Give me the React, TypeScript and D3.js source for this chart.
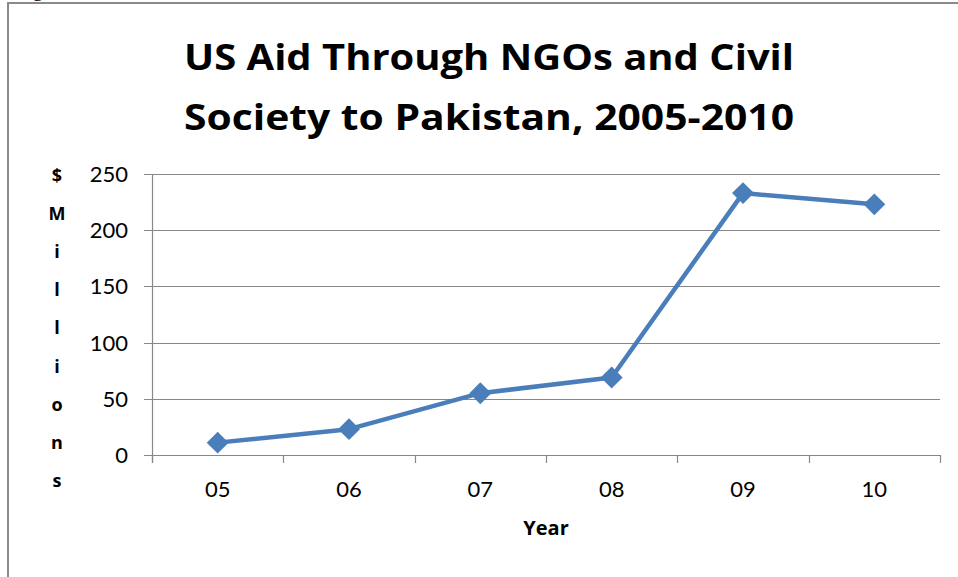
import React from "react";
import * as d3 from "d3";

const categories = ["05", "06", "07", "08", "09", "10"];
const aidValues = [11, 23, 55, 69, 233, 223];
const yTicks = [0, 50, 100, 150, 200, 250];
const titleLines = ["US Aid Through NGOs and Civil", "Society to Pakistan, 2005-2010"];
const yAxisLetters = ["$", "M", "i", "l", "l", "i", "o", "n", "s"];
const xAxisTitle = "Year";

const W = 958;
const H = 577;
const plot = { left: 152, right: 940, top: 174, bottom: 455 };
const GRID = "#878787";
const BLUE = "#4A7EBB";
const FONT = "Lato, 'Open Sans', sans-serif";
const BOLD_FONT = "'Open Sans', Lato, sans-serif";

export default function App() {
  const x = d3.scaleBand<string>().domain(categories).range([plot.left, plot.right]).padding(0);
  const y = d3.scaleLinear().domain([0, 250]).range([plot.bottom, plot.top]);
  const data = categories.map((c, i) => ({ c, v: aidValues[i] }));
  const cx = (c: string) => (x(c) as number) + x.bandwidth() / 2;
  const line = d3
    .line<{ c: string; v: number }>()
    .x((d) => cx(d.c))
    .y((d) => y(d.v));
  const marker = d3.symbol().type(d3.symbolSquare).size(240)();
  const boundaries = [...categories.map((c) => x(c) as number), plot.right];

  return (
    <svg
      width={W}
      height={H}
      viewBox={`0 0 ${W} ${H}`}
      style={{ position: "absolute", left: 0, top: 0, background: "#fff" }}
    >
      <rect x={0} y={0} width={W} height={H} fill="#fff" />
      <text x={14} y={-4.5} fontFamily="'Liberation Serif', serif" fontSize={22} fill="#000">
        Figure
      </text>
      <path d={`M8,${H} V3 H${W}`} fill="none" stroke="#8a8a8a" strokeWidth={2} />

      {titleLines.map((t, i) => (
        <text
          key={t}
          x={489}
          y={70 + i * 60}
          textAnchor="middle"
          fontFamily={BOLD_FONT}
          fontWeight="bold"
          fontSize={35}
          textLength={610}
          lengthAdjust="spacingAndGlyphs"
          fill="#000"
        >
          {t}
        </text>
      ))}

      {yTicks.map((t) => (
        <g key={t}>
          <line
            x1={plot.left - 8}
            x2={plot.right}
            y1={Math.round(y(t)) + 0.5}
            y2={Math.round(y(t)) + 0.5}
            stroke={GRID}
            strokeWidth={1.2}
          />
          <text
            x={128}
            y={y(t)}
            dy="0.36em"
            textAnchor="end"
            fontFamily={FONT}
            fontSize={22}
            fill="#000"
          >
            {t}
          </text>
        </g>
      ))}

      <line x1={plot.left + 0.5} x2={plot.left + 0.5} y1={plot.top} y2={plot.bottom + 8} stroke={GRID} strokeWidth={1.2} />
      {boundaries.map((b, i) => (
        <line key={i} x1={Math.round(b) + 0.5} x2={Math.round(b) + 0.5} y1={plot.bottom} y2={plot.bottom + 8} stroke={GRID} strokeWidth={1.2} />
      ))}

      {categories.map((c) => (
        <text key={c} x={cx(c)} y={497} textAnchor="middle" fontFamily={FONT} fontSize={22} fill="#000">
          {c}
        </text>
      ))}

      <text x={546} y={535} textAnchor="middle" fontFamily={BOLD_FONT} fontWeight="bold" fontSize={20} fill="#000">
        {xAxisTitle}
      </text>

      {yAxisLetters.map((l, i) => (
        <text
          key={i}
          x={57}
          y={182 + i * 38.1}
          textAnchor="middle"
          fontFamily={BOLD_FONT}
          fontWeight="bold"
          fontSize={18}
          fill="#000"
        >
          {l}
        </text>
      ))}

      <path d={line(data) || ""} fill="none" stroke={BLUE} strokeWidth={4.5} strokeLinejoin="round" />
      {data.map((d) => (
        <path
          key={d.c}
          d={marker || ""}
          transform={`translate(${cx(d.c)},${y(d.v)}) rotate(45)`}
          fill={BLUE}
        />
      ))}
    </svg>
  );
}
